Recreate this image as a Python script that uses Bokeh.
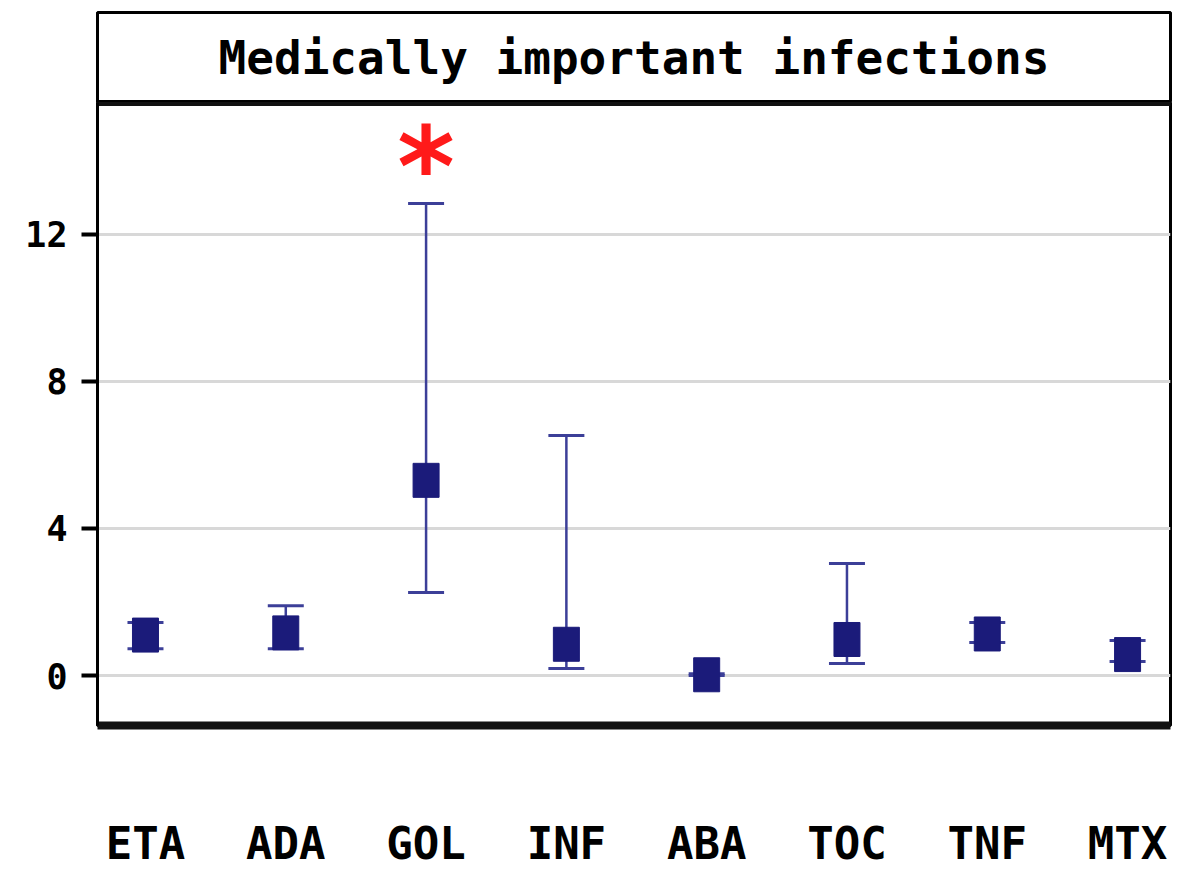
from bokeh.plotting import figure
from bokeh.models import (Range1d, FixedTicker, ColumnDataSource, Whisker, TeeHead,
                          Label, LinearAxis)
from bokeh.layouts import column
from bokeh.embed import file_html
from bokeh.resources import INLINE
from bokeh.core.properties import value

# ---- data ----
categories = ["ETA", "ADA", "GOL", "INF", "ABA", "TOC", "TNF", "MTX"]
means = [1.10, 1.16, 5.31, 0.85, 0.02, 0.98, 1.13, 0.57]
lower = [0.73, 0.73, 2.26, 0.19, 0.00, 0.33, 0.90, 0.38]
upper = [1.44, 1.90, 12.84, 6.53, 0.05, 3.05, 1.44, 0.95]
significance = ["", "", "*", "", "", "", "", ""]
y_ticks = [0, 4, 8, 12]
title_text = "Medically important infections"

SQUARE = "#1b1b7a"
WHISK = "#3c3f98"
MONO = "DejaVu Sans Mono"

positions = list(range(len(categories)))
src = ColumnDataSource(dict(x=positions, mean=means, lower=lower, upper=upper))
sig_idx = [i for i, s in enumerate(significance) if s]
sig_src = ColumnDataSource(dict(x=[positions[i] for i in sig_idx],
                                y=[upper[i] for i in sig_idx],
                                sig=[significance[i] for i in sig_idx]))

FW = 1073
LEFT = 97
RIGHT = 1188 - LEFT - FW

# ---- title panel ----
t = figure(frame_width=FW, frame_height=90, x_range=Range1d(0, 1), y_range=Range1d(0, 1),
           toolbar_location=None, output_backend="svg", x_axis_location=None,
           y_axis_location=None, min_border_left=LEFT, min_border_right=RIGHT,
           min_border_top=12, min_border_bottom=0)
t.grid.visible = False
t.outline_line_color = "black"
t.outline_line_width = 3
t_axis = LinearAxis(ticker=FixedTicker(ticks=[]), major_label_text_font_size="0px",
                    major_tick_line_color=None, minor_tick_line_color=None,
                    major_tick_out=0, minor_tick_out=0, major_label_standoff=0,
                    axis_line_width=3, axis_line_color="black")
t.add_layout(t_axis, "left")
t.add_layout(Label(x=0.5, y=0.5, text=title_text, text_align="center",
                   text_baseline="middle", text_font=MONO, text_font_style="bold",
                   text_font_size="46px", text_color="black"))

# ---- main panel ----
p = figure(frame_width=FW, frame_height=623, x_range=Range1d(-0.342, 7.306),
           y_range=Range1d(-1.36, 15.59), toolbar_location=None, output_backend="svg",
           min_border_left=LEFT, min_border_right=RIGHT, min_border_top=0,
           min_border_bottom=2)
p.outline_line_color = "black"
p.outline_line_width = 3
p.xgrid.visible = False
p.ygrid.ticker = FixedTicker(ticks=y_ticks)
p.ygrid.grid_line_color = "#d8d8d8"
p.ygrid.grid_line_width = 3

p.yaxis.ticker = FixedTicker(ticks=y_ticks)
p.yaxis.axis_line_width = 3
p.yaxis.axis_line_color = "black"
p.yaxis.major_tick_out = 16
p.yaxis.major_tick_in = 0
p.yaxis.major_tick_line_width = 4
p.yaxis.minor_tick_line_color = None
p.yaxis.major_label_text_font = MONO
p.yaxis.major_label_text_font_style = "bold"
p.yaxis.major_label_text_font_size = "35px"
p.yaxis.major_label_standoff = 14
p.yaxis.major_label_text_color = "black"

bx = p.below[0]
bx.ticker = FixedTicker(ticks=positions)
bx.major_label_overrides = {i: c for i, c in zip(positions, categories)}
bx.axis_line_width = 8
bx.axis_line_color = "#111111"
bx.major_tick_line_color = None
bx.minor_tick_line_color = None
bx.major_label_text_font = MONO
bx.major_label_text_font_style = "bold"
bx.major_label_text_font_size = "44px"
bx.major_label_standoff = 86
bx.major_label_text_color = "black"

top_axis = LinearAxis(ticker=FixedTicker(ticks=[]), major_label_text_font_size="0px",
                      major_tick_line_color=None, minor_tick_line_color=None,
                      major_tick_out=0, minor_tick_out=0, major_label_standoff=0,
                      axis_line_width=7, axis_line_color="#111111")
p.add_layout(top_axis, "above")

whisk = Whisker(source=src, base="x", lower="lower", upper="upper",
                line_color=WHISK, line_width=2.5,
                upper_head=TeeHead(size=36, line_color=WHISK, line_width=3),
                lower_head=TeeHead(size=36, line_color=WHISK, line_width=3))
p.add_layout(whisk)

p.rect(x="x", y="mean", width=26, height=34, width_units="screen", height_units="screen",
       source=src, fill_color=SQUARE, line_color=SQUARE, line_width=1)

p.text(x="x", y="y", text="sig", source=sig_src, text_color="#ff1a1a",
       text_font=value("DejaVu Sans"), text_font_style="bold", text_font_size="110px",
       text_align="center", text_baseline="alphabetic", y_offset=-36)

layout = column(t, p, spacing=0)
open("out.html", "w").write(file_html(layout, INLINE))
